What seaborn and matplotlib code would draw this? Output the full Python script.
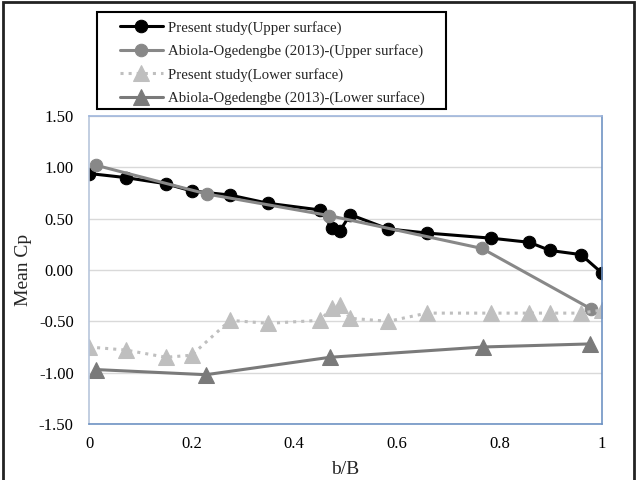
import matplotlib
matplotlib.use("Agg")
import matplotlib.pyplot as plt
import seaborn as sns
import pandas as pd
from matplotlib.patches import Rectangle

# present study, upper surface
ps_up_x = [0.0, 0.072, 0.15, 0.2, 0.275, 0.349, 0.45, 0.474, 0.489, 0.509,
           0.583, 0.659, 0.784, 0.858, 0.899, 0.959, 1.0]
ps_up_y = [0.94, 0.90, 0.84, 0.77, 0.73, 0.65, 0.585, 0.41, 0.38, 0.54,
           0.40, 0.36, 0.31, 0.27, 0.19, 0.15, -0.03]

# Abiola-Ogedengbe (2013), upper surface
ab_up_x = [0.014, 0.23, 0.468, 0.766, 0.979]
ab_up_y = [1.02, 0.74, 0.53, 0.21, -0.38]

# present study, lower surface
ps_lo_x = ps_up_x
ps_lo_y = [-0.75, -0.78, -0.85, -0.83, -0.49, -0.52, -0.49, -0.37, -0.34, -0.47,
           -0.50, -0.42, -0.42, -0.42, -0.42, -0.42, -0.39]

# Abiola-Ogedengbe (2013), lower surface
ab_lo_x = [0.014, 0.228, 0.47, 0.768, 0.977]
ab_lo_y = [-0.97, -1.02, -0.85, -0.75, -0.72]

labels = ["Present study(Upper surface)",
          "Abiola-Ogedengbe (2013)-(Upper surface)",
          "Present study(Lower surface)",
          "Abiola-Ogedengbe (2013)-(Lower surface)"]

sns.set_style("white")
plt.rcParams["font.family"] = ["Liberation Serif", "DejaVu Serif"]

fig = plt.figure(figsize=(6.38, 4.80), dpi=100)
ax = fig.add_axes([0.1395, 0.1167, 0.8041, 0.6416])

series = [
    (ps_up_x, ps_up_y, labels[0], "black", "o", "-", 9),
    (ab_up_x, ab_up_y, labels[1], "#888888", "o", "-", 9),
    (ps_lo_x, ps_lo_y, labels[2], "#bfbfbf", "^", ":", 11),
    (ab_lo_x, ab_lo_y, labels[3], "#7a7a7a", "^", "-", 11),
]
for xs, ys, lab, col, mk, ls, ms in series:
    df = pd.DataFrame({"x": xs, "y": ys})
    sns.lineplot(data=df, x="x", y="y", ax=ax, color=col, marker=mk,
                 markersize=ms, markeredgecolor=col, linestyle=ls,
                 linewidth=2.2, sort=False, label=lab, legend=False)

ax.set_xlim(0, 1)
ax.set_ylim(-1.5, 1.5)
ax.set_xticks([0, 0.2, 0.4, 0.6, 0.8, 1.0])
ax.set_xticklabels(["0", "0.2", "0.4", "0.6", "0.8", "1"])
ax.set_yticks([-1.5, -1.0, -0.5, 0.0, 0.5, 1.0, 1.5])
ax.set_yticklabels([f"{v:.2f}" for v in [-1.5, -1.0, -0.5, 0.0, 0.5, 1.0, 1.5]])
ax.tick_params(axis="both", length=0, labelsize=12, colors="black")
ax.tick_params(axis="x", pad=9)
ax.tick_params(axis="y", pad=11)
ax.yaxis.grid(True, color="#d9d9d9", linewidth=1)
ax.set_axisbelow(True)
ax.set_xlabel("b/B", fontsize=14, labelpad=6)
ax.set_ylabel("Mean Cp", fontsize=14, labelpad=5)

ax.spines["top"].set_color("#9fb6dc")
ax.spines["left"].set_color("#b7c6dc")
ax.spines["right"].set_color("#6f93c4")
ax.spines["bottom"].set_color("#6f93c4")
for s in ax.spines.values():
    s.set_linewidth(1.2)

# legend entries without frame, box drawn separately (wider padding on the right)
handles, labs = ax.get_legend_handles_labels()
fig.legend(handles, labs, loc="upper left", bbox_to_anchor=(0.188, 0.957),
           frameon=False, fontsize=10.7, handlelength=2.9, handletextpad=0.35,
           labelspacing=0.64, borderpad=0.0, borderaxespad=0.0)
fig.patches.append(Rectangle((0.152, 0.773), 0.547, 0.202, transform=fig.transFigure,
                             fill=False, edgecolor="black", linewidth=1.5))

# outer border of the figure
fig.patches.append(Rectangle((0.004, -0.05), 0.99, 1.045, transform=fig.transFigure,
                             fill=False, edgecolor="#222222", linewidth=2))

fig.savefig("out.png", dpi=100)
